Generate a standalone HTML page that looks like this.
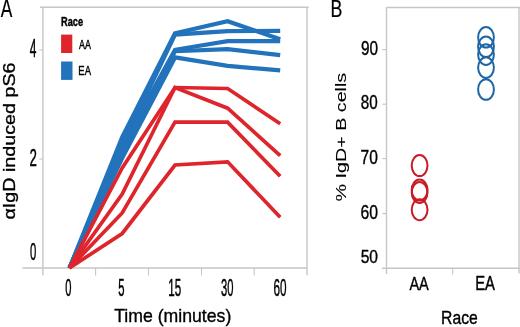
<!DOCTYPE html>
<html><head><meta charset="utf-8"><style>
html,body{margin:0;padding:0;background:#fff;width:520px;height:327px;overflow:hidden}
svg{display:block;will-change:transform}
text{font-family:"Liberation Sans",sans-serif}
</style></head><body>
<svg width="520" height="327" viewBox="0 0 520 327">
<g stroke="#c6c6c6" stroke-width="1.4" fill="none">
<path d="M40,7.2 H308.8"/>
<path d="M307,7.2 V275.3"/>
<path d="M42.9,7.2 V275.3"/>
<path d="M22.5,268 H307"/>
<path d="M95.6,268 V275.6" stroke-width="1.1"/>
<path d="M148.5,268 V275.6" stroke-width="1.1"/>
<path d="M201.5,268 V275.6" stroke-width="1.1"/>
<path d="M254.2,268 V275.6" stroke-width="1.1"/>
<path d="M39.3,50 H43" stroke-width="1.1"/>
<path d="M39.3,159 H43" stroke-width="1.1"/>
</g>
<polyline points="69.5,268 122.2,137 175,33.3 227.6,21.3 280.2,39.2" fill="none" stroke="#2273bb" stroke-width="4.2" stroke-linejoin="miter" stroke-linecap="butt"/>
<polyline points="69.5,268 122.2,145 175,34.6 227.6,31.2 280.2,30.8" fill="none" stroke="#2273bb" stroke-width="4.2" stroke-linejoin="miter" stroke-linecap="butt"/>
<polyline points="69.5,268 122.2,146 175,49.8 227.6,41.2 280.2,41.2" fill="none" stroke="#2273bb" stroke-width="4.2" stroke-linejoin="miter" stroke-linecap="butt"/>
<polyline points="69.5,268 122.2,151 175,51.2 227.6,49.1 280.2,55.1" fill="none" stroke="#2273bb" stroke-width="4.2" stroke-linejoin="miter" stroke-linecap="butt"/>
<polyline points="69.5,268 122.2,158 175,57.4 227.6,65.8 280.2,70.4" fill="none" stroke="#2273bb" stroke-width="4.2" stroke-linejoin="miter" stroke-linecap="butt"/>
<polyline points="69.5,268 122.2,168 175,87.5 227.6,88.5 280.2,123.8" fill="none" stroke="#df252c" stroke-width="3.7" stroke-linejoin="miter" stroke-linecap="butt"/>
<polyline points="69.5,268 122.2,194 175,87.5 227.6,108.2 280.2,155.6" fill="none" stroke="#df252c" stroke-width="3.7" stroke-linejoin="miter" stroke-linecap="butt"/>
<polyline points="69.5,268 122.2,213 175,122 227.6,122.2 280.2,176.3" fill="none" stroke="#df252c" stroke-width="3.7" stroke-linejoin="miter" stroke-linecap="butt"/>
<polyline points="69.5,268 122.2,233.5 175,165 227.6,161.8 280.2,217.2" fill="none" stroke="#df252c" stroke-width="3.7" stroke-linejoin="miter" stroke-linecap="butt"/>
<rect x="61.1" y="34.6" width="11.2" height="18.4" fill="#df252c"/>
<rect x="61.1" y="61.5" width="11.4" height="18.4" fill="#2273bb"/>
<text transform="matrix(0.76965 0 0 1.01786 60.975 26.103)" font-size="12" font-weight="bold" fill="#000" stroke="#000" stroke-width="0.3954" stroke-linejoin="round">Race</text>
<text transform="matrix(0.68537 0 0 0.98662 79.075 48.525)" font-size="13" font-weight="normal" fill="#000" stroke="#000" stroke-width="0.4256" stroke-linejoin="round">AA</text>
<text transform="matrix(0.79000 0 0 1.02053 78.317 75.425)" font-size="12" font-weight="normal" fill="#000" stroke="#000" stroke-width="0.3898" stroke-linejoin="round">EA</text>
<text transform="matrix(0.69474 0 0 1.01159 0.675 16.725)" font-size="25" font-weight="normal" fill="#000" stroke="#000" stroke-width="0.1789" stroke-linejoin="round">A</text>
<text transform="matrix(0.47921 0 0 1.01739 29.835 56.825)" font-size="25" font-weight="normal" fill="#000" stroke="#000" stroke-width="0.5013" stroke-linejoin="round">4</text>
<text transform="matrix(0.53187 0 0 0.98571 29.410 165.525)" font-size="25" font-weight="normal" fill="#000" stroke="#000" stroke-width="0.4834" stroke-linejoin="round">2</text>
<text transform="matrix(0.47309 0 0 1.01819 29.921 260.481)" font-size="24" font-weight="normal" fill="#000" stroke="#000" stroke-width="0.5043" stroke-linejoin="round">0</text>
<text transform="matrix(0.46441 0 0 1.01819 65.229 296.181)" font-size="24" font-weight="normal" fill="#000" stroke="#000" stroke-width="0.5090" stroke-linejoin="round">0</text>
<text transform="matrix(0.45053 0 0 0.99143 118.224 296.177)" font-size="25" font-weight="normal" fill="#000" stroke="#000" stroke-width="0.5237" stroke-linejoin="round">5</text>
<text transform="matrix(0.46432 0 0 0.99143 168.204 296.177)" font-size="25" font-weight="normal" fill="#000" stroke="#000" stroke-width="0.5159" stroke-linejoin="round">15</text>
<text transform="matrix(0.46498 0 0 1.01819 220.929 296.181)" font-size="24" font-weight="normal" fill="#000" stroke="#000" stroke-width="0.5087" stroke-linejoin="round">30</text>
<text transform="matrix(0.48984 0 0 1.01819 273.387 296.181)" font-size="24" font-weight="normal" fill="#000" stroke="#000" stroke-width="0.4956" stroke-linejoin="round">60</text>
<text transform="matrix(0.98176 0 0 1.02496 114.222 321.551)" font-size="18" font-weight="normal" fill="#000" stroke="#000" stroke-width="0.3489" stroke-linejoin="round">Time (minutes)</text>
<text transform="matrix(0 -1.15970 0.97830 0 14.832 219.514)" font-size="17" fill="#000" stroke="#000" stroke-width="0.3286" stroke-linejoin="round">αIgD induced pS6</text>
<g stroke="#c6c6c6" stroke-width="1.4" fill="none">
<path d="M386.5,7.5 H520"/>
<path d="M519,7.5 V273.5"/>
<path d="M386.5,7.5 V274"/>
<path d="M382,268.3 H520"/>
<path d="M452.7,268 V274.5" stroke-width="1.1"/>
<path d="M382.2,49.6 H386.5" stroke-width="1.1"/>
<path d="M382.2,104.2 H386.5" stroke-width="1.1"/>
<path d="M382.2,158.6 H386.5" stroke-width="1.1"/>
<path d="M382.2,213.6 H386.5" stroke-width="1.1"/>
</g>
<ellipse cx="419.6" cy="165.6" rx="7.9" ry="10.5" fill="none" stroke="#c91b26" stroke-width="2.0"/>
<ellipse cx="419.6" cy="190" rx="7.9" ry="10.5" fill="none" stroke="#c91b26" stroke-width="2.0"/>
<ellipse cx="419.6" cy="192.5" rx="7.9" ry="10.5" fill="none" stroke="#c91b26" stroke-width="2.0"/>
<ellipse cx="419.6" cy="209.7" rx="7.9" ry="10.5" fill="none" stroke="#c91b26" stroke-width="2.0"/>
<ellipse cx="486" cy="37.3" rx="7.9" ry="10.3" fill="none" stroke="#1e66a5" stroke-width="2.0"/>
<ellipse cx="486" cy="46.8" rx="7.9" ry="10.3" fill="none" stroke="#1e66a5" stroke-width="2.0"/>
<ellipse cx="486" cy="54.6" rx="7.9" ry="10.3" fill="none" stroke="#1e66a5" stroke-width="2.0"/>
<ellipse cx="486" cy="67.6" rx="7.9" ry="10.3" fill="none" stroke="#1e66a5" stroke-width="2.0"/>
<ellipse cx="486" cy="89.5" rx="7.9" ry="10.3" fill="none" stroke="#1e66a5" stroke-width="2.0"/>
<text transform="matrix(0.73988 0 0 1.02053 330.579 16.600)" font-size="24" font-weight="normal" fill="#000" stroke="#000" stroke-width="0.2302" stroke-linejoin="round">B</text>
<text transform="matrix(0.76942 0 0 0.98239 360.883 54.729)" font-size="20" font-weight="normal" fill="#000" stroke="#000" stroke-width="0.4026" stroke-linejoin="round">90</text>
<text transform="matrix(0.75971 0 0 0.98944 360.691 109.327)" font-size="20" font-weight="normal" fill="#000" stroke="#000" stroke-width="0.4037" stroke-linejoin="round">80</text>
<text transform="matrix(0.77805 0 0 0.98239 360.597 163.729)" font-size="20" font-weight="normal" fill="#000" stroke="#000" stroke-width="0.4003" stroke-linejoin="round">70</text>
<text transform="matrix(0.82927 0 0 1.01927 360.387 219.031)" font-size="19" font-weight="normal" fill="#000" stroke="#000" stroke-width="0.3807" stroke-linejoin="round">60</text>
<text transform="matrix(0.82126 0 0 0.99703 360.651 262.636)" font-size="19" font-weight="normal" fill="#000" stroke="#000" stroke-width="0.3868" stroke-linejoin="round">50</text>
<text transform="matrix(0.76573 0 0 1.00305 409.375 290.225)" font-size="19" font-weight="normal" fill="#000" stroke="#000" stroke-width="0.3994" stroke-linejoin="round">AA</text>
<text transform="matrix(0.78105 0 0 1.01831 475.188 290.425)" font-size="19" font-weight="normal" fill="#000" stroke="#000" stroke-width="0.3925" stroke-linejoin="round">EA</text>
<text transform="matrix(0.87355 0 0 0.98016 441.117 323.649)" font-size="18" font-weight="normal" fill="#000" stroke="#000" stroke-width="0.3782" stroke-linejoin="round">Race</text>
<text transform="matrix(0 -1.40977 1.01604 0 346.463 201.541)" font-size="14" fill="#000" stroke="#000" stroke-width="0.0836" stroke-linejoin="round">% IgD+ B cells</text>
</svg>
</body></html>
